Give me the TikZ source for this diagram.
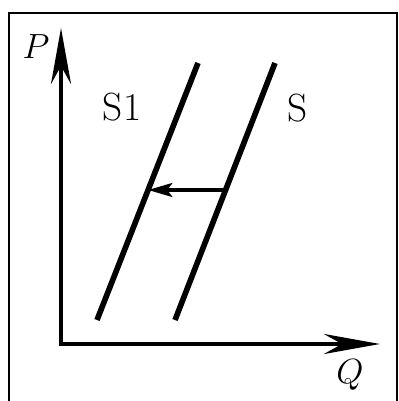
\documentclass[tikz,border=0pt]{standalone}
\usepackage{amsmath}
\usepackage{tikz}
\usetikzlibrary{arrows.meta}
\tikzset{axis/.style={line width=3.4pt,-{Stealth[length=1.4cm,width=0.5cm,inset=0.45cm]}}}
\tikzset{supply/.style={line width=4pt}}
\tikzset{lbl/.style={font=\fontsize{28}{32}\selectfont}}
\tikzset{shiftarrow/.style={line width=3.2pt,-{Stealth[length=0.6cm,width=0.34cm,inset=0.12cm]}}}

\begin{document}
\begin{tikzpicture}
\useasboundingbox (0,0) rectangle (9.95,10.025);
% frame
\draw[line width=1.6pt] (0.225,-0.2) -- (0.225,9.7) -- (9.925,9.7) -- (9.925,-0.2);

% axes
\coordinate (O) at (1.525,1.425);
\coordinate (Ptip) at (1.525,9.325);
\coordinate (Qtip) at (9.5,1.425);
\draw[axis] (O) -- (Ptip);
\draw[axis] ([xshift=-1.7pt]O) -- (Qtip);
\node[lbl] (P) at (0.9,8.85) {$P$};
\node[lbl] (Q) at (8.75,0.65) {$Q$};

% supply curves
\coordinate (s1a) at (2.425,2.025);
\coordinate (s1b) at (4.95,8.45);
\coordinate (sa) at (4.375,2.025);
\coordinate (sb) at (6.875,8.45);
\draw[supply] (s1a) -- (s1b);
\draw[supply] (sa) -- (sb);
\node[lbl] (S1) at (3.05,7.35) {S1};
\node[lbl] (S) at (7.45,7.33) {S};

% shift
\coordinate (from) at (5.6,5.275);
\coordinate (to) at (3.7,5.275);
\draw[shiftarrow] (from) -- (to);
\end{tikzpicture}
\end{document}
